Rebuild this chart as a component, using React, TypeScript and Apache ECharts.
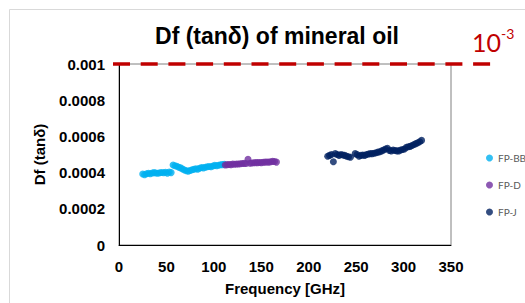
import React, { useEffect, useRef } from "react";
import * as echarts from "echarts";

const seriesNames = ["FP-BB", "FP-D", "FP-J"];
const seriesColors = ["#00b0f0", "#7030a0", "#002060"];

const bbFreq = [25, 27, 29, 31, 33, 35, 37, 39, 41, 43, 45, 47, 49, 51, 53, 55, 57, 59, 61, 63, 65, 67, 69, 71, 73, 75, 77, 79, 81, 83, 85, 87, 89, 91, 93, 95, 97, 99, 101, 103, 105, 107, 109, 111];
const bbDf = [0.000392, 0.000388, 0.000394, 0.000396, 0.000394, 0.000398, 0.0004, 0.000398, 0.000396, 0.000399, 0.000401, 0.000399, 0.000402, 0.000397, 0.000403, 0.0004, 0.000442, 0.000438, 0.000435, 0.00043, 0.000426, 0.00042, 0.000414, 0.00041, 0.000408, 0.000412, 0.000416, 0.000418, 0.000421, 0.000419, 0.000424, 0.000428, 0.000426, 0.00043, 0.000432, 0.000434, 0.000432, 0.000436, 0.00044, 0.000438, 0.000441, 0.000443, 0.000444, 0.000446];

const dFreq = [112, 114, 116, 118, 120, 122, 124, 126, 128, 130, 132, 134, 136, 138, 140, 142, 144, 146, 148, 150, 152, 154, 156, 158, 160, 162, 164, 166];
const dDf = [0.000442, 0.000444, 0.000445, 0.000444, 0.000447, 0.000446, 0.000448, 0.000448, 0.000449, 0.00045, 0.000451, 0.00045, 0.000474, 0.000452, 0.000453, 0.000454, 0.000455, 0.000455, 0.000456, 0.000455, 0.000457, 0.000458, 0.000459, 0.000458, 0.00046, 0.000462, 0.000461, 0.000458];

const jFreq = [220, 222, 224, 226, 228, 230, 232, 234, 236, 238, 240, 242, 244, 249, 251, 253, 255, 257, 259, 261, 263, 265, 267, 269, 271, 273, 275, 277, 279, 281, 283, 285, 287, 289, 291, 293, 295, 297, 299, 301, 303, 305, 307, 309, 311, 313, 315, 317, 319];
const jDf = [0.00049, 0.000495, 0.0005, 0.00046, 0.000505, 0.0005, 0.000495, 0.0005, 0.000497, 0.000495, 0.00049, 0.000488, 0.000485, 0.000505, 0.0005, 0.00049, 0.000495, 0.000497, 0.000495, 0.0005, 0.000503, 0.000505, 0.000505, 0.000507, 0.00051, 0.000513, 0.000515, 0.00052, 0.000525, 0.00053, 0.000535, 0.000522, 0.00052, 0.000525, 0.000522, 0.00052, 0.00052, 0.000525, 0.000528, 0.00053, 0.00054, 0.000543, 0.000545, 0.00055, 0.000555, 0.00056, 0.000565, 0.00057, 0.000578];

const limitValue = 0.001;
const xTicks = [0, 350, 50];
const yTicks = [0, 0.001, 0.0002];

const zip = (a: number[], b: number[]) => a.map((v, i) => [v, b[i]]);

export default function App() {
  const ref = useRef<HTMLDivElement>(null);
  useEffect(() => {
    if (!ref.current) return;
    const chart = echarts.init(ref.current, null, { renderer: "svg" });
    const font = "'Liberation Sans', Arial, sans-serif";
    const data = [zip(bbFreq, bbDf), zip(dFreq, dDf), zip(jFreq, jDf)];
    chart.setOption({
      animation: false,
      title: {
        text: "Df (tanδ) of mineral oil",
        left: 272,
        top: 19,
        textAlign: "center",
        textStyle: { fontFamily: font, fontWeight: "bold", fontSize: 23, color: "#000" },
      },
      legend: {
        data: seriesNames,
        orient: "vertical",
        left: 486,
        top: 153,
        padding: 0,
        icon: "circle",
        itemWidth: 7,
        itemHeight: 7,
        itemGap: 17,
        textStyle: { fontFamily: "Lato, sans-serif", fontSize: 10, color: "#595959" },
      },
      grid: {
        left: 119,
        right: 74,
        top: 64,
        bottom: 58,
        show: true,
        borderColor: "#808080",
        borderWidth: 1,
      },
      xAxis: {
        type: "value",
        min: xTicks[0],
        max: xTicks[1],
        interval: xTicks[2],
        name: "Frequency [GHz]",
        nameLocation: "middle",
        nameGap: 36,
        nameTextStyle: { fontFamily: font, fontWeight: "bold", fontSize: 15, color: "#000" },
        axisLine: { show: true, lineStyle: { color: "#000", width: 1 } },
        axisTick: { show: false },
        splitLine: { show: false },
        axisLabel: { fontFamily: font, fontWeight: "bold", fontSize: 15, color: "#000", margin: 14 },
      },
      yAxis: {
        type: "value",
        min: yTicks[0],
        max: yTicks[1],
        interval: yTicks[2],
        name: "Df (tanδ)",
        nameLocation: "middle",
        nameGap: 72,
        nameTextStyle: { fontFamily: font, fontWeight: "bold", fontSize: 15, color: "#000" },
        axisLine: { show: true, lineStyle: { color: "#000", width: 1 } },
        axisTick: { show: false },
        splitLine: { show: false },
        axisLabel: {
          fontFamily: font,
          fontWeight: "bold",
          fontSize: 15,
          color: "#000",
          margin: 14,
          formatter: (v: number) => (v === 0 ? "0" : String(+v.toFixed(4))),
        },
      },
      series: seriesNames.map((name, i) => ({
        name,
        type: "scatter",
        data: data[i],
        symbol: "circle",
        symbolSize: 7,
        itemStyle: { color: seriesColors[i] },
      })),
    });
    const y = chart.convertToPixel({ gridIndex: 0 }, [0, limitValue])[1];
    chart.setOption({
      graphic: [
        {
          type: "rect",
          silent: true,
          shape: { x: 9.5, y: 9.5, width: 700, height: 700 },
          style: { fill: "none", stroke: "#d9d9d9", lineWidth: 1 },
          z: -10,
        },
        {
          type: "line",
          silent: true,
          shape: { x1: 113, y1: y, x2: 491, y2: y },
          style: { stroke: "#c00000", lineWidth: 3.5, lineDash: [17, 10.7] },
          z: 100,
        },
        {
          type: "text",
          left: 472,
          top: 26,
          style: {
            text: "{a|10}{b|-3}",
            rich: {
              a: { fontFamily: "Lato, sans-serif", fontSize: 25, lineHeight: 28, fill: "#c00000", verticalAlign: "bottom" },
              b: { fontFamily: "Lato, sans-serif", fontSize: 14, lineHeight: 20, fill: "#c00000", verticalAlign: "top" },
            },
          },
          z: 100,
        },
      ],
    });
    return () => chart.dispose();
  }, []);
  return (
    <div
      ref={ref}
      style={{ position: "absolute", left: 0, top: 0, width: 525, height: 303, background: "#fff" }}
    />
  );
}
